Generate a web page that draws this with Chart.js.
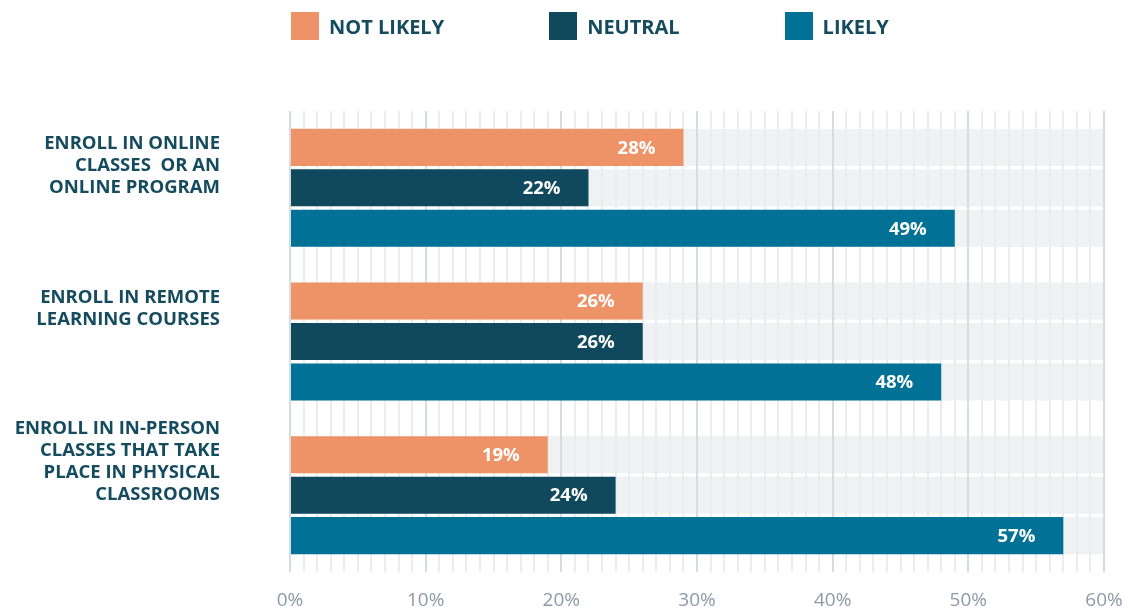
<!DOCTYPE html>
<html>
<head>
    <title>Enrollment Likelihood</title>
    <script src="https://cdnjs.cloudflare.com/ajax/libs/Chart.js/4.4.0/chart.umd.min.js"></script>
    <style>
        body {
            margin: 0;
            background: #fff;
            font-family: 'Open Sans', sans-serif;
        }
        .wrap {
            position: relative;
            width: 1130px;
            height: 610px;
        }
        .legend {
            position: absolute;
            top: 12px;
            left: 291px;
            display: flex;
            gap: 105px;
            z-index: 2;
        }
        .legend-item {
            display: flex;
            align-items: center;
            font-weight: bold;
            font-size: 20px;
            color: #154b5e;
        }
        .legend-item span {
            display: inline-block;
            width: 28px;
            height: 28px;
            margin-right: 10px;
        }
    </style>
</head>
<body>
    <div class="wrap">
        <div class="legend" id="legend"></div>
        <canvas id="myChart" width="1130" height="610"></canvas>
    </div>

    <script>
        const categories = [
            ['ENROLL IN ONLINE', 'CLASSES  OR AN', 'ONLINE PROGRAM'],
            ['ENROLL IN REMOTE', 'LEARNING COURSES'],
            ['ENROLL IN IN-PERSON', 'CLASSES THAT TAKE', 'PLACE IN PHYSICAL', 'CLASSROOMS']
        ];
        const seriesNames = ['NOT LIKELY', 'NEUTRAL', 'LIKELY'];
        const notLikely = [29, 26, 19];
        const neutral = [22, 26, 24];
        const likely = [49, 48, 57];
        // printed labels (the first bar is labelled 28% in the source)
        const notLikelyLabels = ['28%', '26%', '19%'];
        const neutralLabels = ['22%', '26%', '24%'];
        const likelyLabels = ['49%', '48%', '57%'];
        const xTicks = [0, 10, 20, 30, 40, 50, 60];

        const colors = ['#ee9368', '#10495d', '#017296'];
        const valueLabels = [notLikelyLabels, neutralLabels, likelyLabels];
        // blank lines below each label, so the text sits a bit above the group centre
        const labelPad = [2, 3, 3];

        // html legend
        const legend = document.getElementById('legend');
        seriesNames.forEach((name, i) => {
            const item = document.createElement('div');
            item.className = 'legend-item';
            item.innerHTML = '<span style="background:' + colors[i] + '"></span>' + name;
            legend.appendChild(item);
        });

        // grey track behind each bar, under the grid
        const bandPlugin = {
            id: 'bands',
            beforeDraw(chart) {
                const ctx = chart.ctx;
                const x = chart.scales.x;
                const left = x.getPixelForValue(0);
                const right = x.getPixelForValue(60);
                ctx.save();
                ctx.fillStyle = '#f0f1f3';
                chart.data.datasets.forEach((ds, i) => {
                    chart.getDatasetMeta(i).data.forEach(bar => {
                        ctx.fillRect(left, bar.y - bar.height / 2, right - left, bar.height);
                    });
                });
                ctx.restore();
            }
        };

        const labelPlugin = {
            id: 'barLabels',
            afterDatasetsDraw(chart) {
                const ctx = chart.ctx;
                ctx.save();
                ctx.font = 'bold 18.5px "Open Sans"';
                ctx.fillStyle = '#ffffff';
                ctx.textAlign = 'right';
                ctx.textBaseline = 'middle';
                chart.data.datasets.forEach((ds, i) => {
                    chart.getDatasetMeta(i).data.forEach((bar, j) => {
                        ctx.fillText(valueLabels[i][j], bar.x - 28, bar.y + 1);
                    });
                });
                ctx.restore();
            }
        };

        const ctx = document.getElementById('myChart');
        new Chart(ctx, {
            type: 'bar',
            data: {
                labels: categories,
                datasets: [notLikely, neutral, likely].map((d, i) => ({
                    label: seriesNames[i],
                    data: d,
                    backgroundColor: colors[i],
                    borderWidth: 0,
                    categoryPercentage: 0.79,
                    barPercentage: 0.915
                }))
            },
            options: {
                indexAxis: 'y',
                responsive: false,
                animation: false,
                layout: {
                    padding: { top: 111, right: 26, left: 0, bottom: 0 }
                },
                plugins: {
                    legend: { display: false },
                    tooltip: { enabled: false }
                },
                scales: {
                    x: {
                        min: 0,
                        max: 60,
                        afterFit(scale) {
                            scale.height = 38;
                            scale.paddingLeft = 0;
                            scale.paddingRight = 0;
                        },
                        border: { display: false },
                        grid: {
                            drawTicks: false,
                            lineWidth: 2,
                            color: c => (c.tick && c.tick.value % 10 === 0) ? '#d7dce1' : '#eaecef'
                        },
                        ticks: {
                            stepSize: 1,
                            autoSkip: false,
                            maxRotation: 0,
                            padding: 17,
                            color: '#8d99a6',
                            font: { family: 'Open Sans', size: 19 },
                            callback: v => xTicks.includes(v) ? v + '%' : ''
                        }
                    },
                    y: {
                        afterFit(scale) {
                            scale.width = 290;
                            scale.paddingTop = 0;
                            scale.paddingBottom = 0;
                        },
                        border: { display: false },
                        grid: { display: false, drawTicks: false },
                        ticks: {
                            autoSkip: false,
                            padding: 70,
                            color: '#154b5e',
                            font: { family: 'Open Sans', size: 18.5, weight: 'bold', lineHeight: 1.19 },
                            callback: (v, i) => categories[i].concat(Array(labelPad[i]).fill(''))
                        }
                    }
                }
            },
            plugins: [bandPlugin, labelPlugin]
        });
    </script>
</body>
</html>
